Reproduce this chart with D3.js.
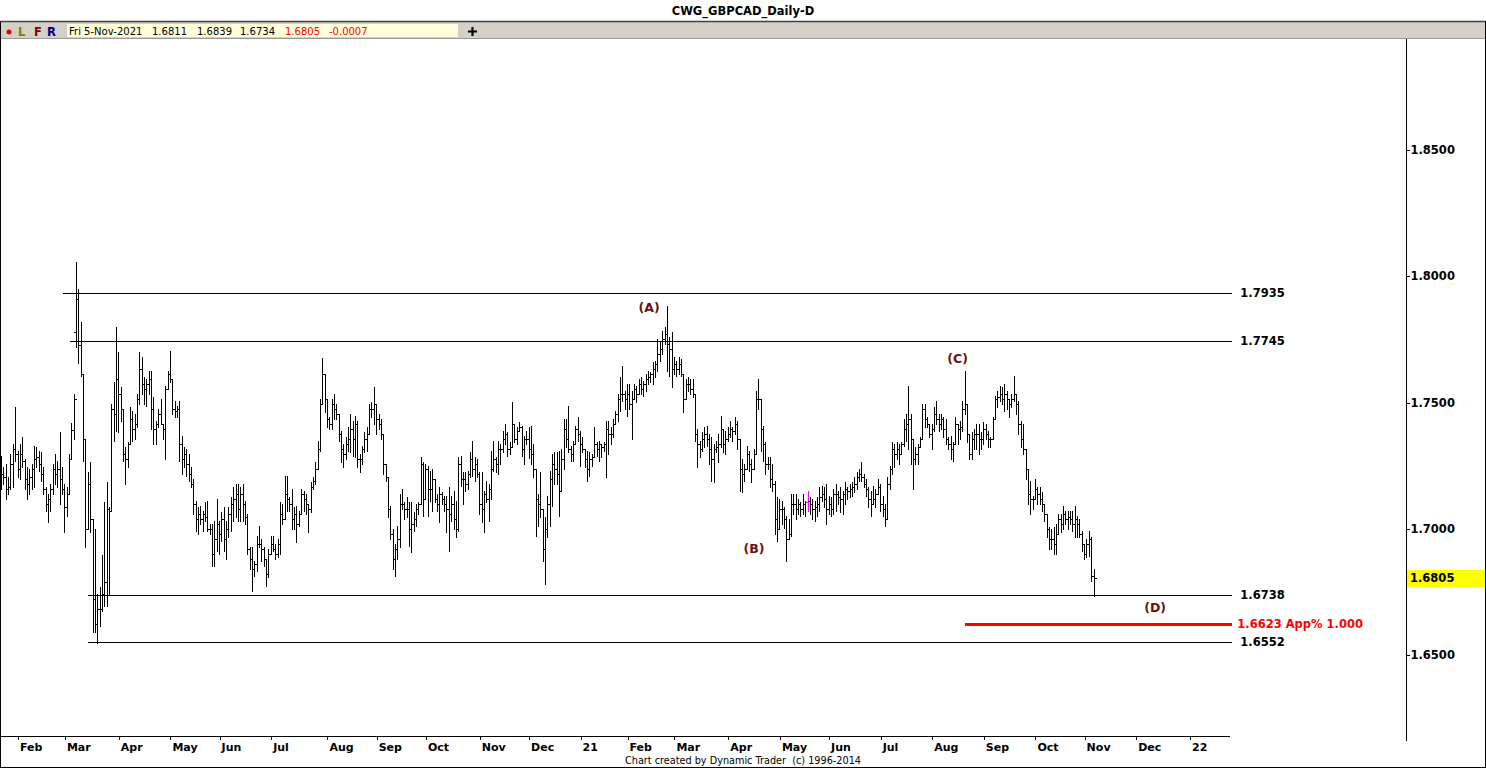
<!DOCTYPE html>
<html><head><meta charset="utf-8">
<script src="https://cdn.jsdelivr.net/npm/d3@7"></script>
<style>html,body{margin:0;padding:0;background:#fff;}svg{display:block;}</style>
</head><body>
<svg id="c" width="1486" height="768"></svg>
<script>
const chartTitle = "CWG_GBPCAD_Daily-D";
const infoTexts = ["Fri 5-Nov-2021", "1.6811", "1.6839", "1.6734", "1.6805", "-0.0007"];
const footerText = "Chart created by Dynamic Trader  (c) 1996-2014";

const opens = [
1.7196,1.7216,1.7204,1.7157,1.7164,1.7256,1.7315,1.7295,1.7236,1.7295,
1.7268,1.7196,1.7177,1.7204,1.7236,1.7275,1.7283,1.7256,1.7216,1.7157,
1.7097,1.7117,1.7157,1.7236,1.7216,1.7236,1.7196,1.7157,1.7085,1.7137,
1.7275,1.7390,1.7778,1.7909,1.7727,1.7612,1.7355,1.6998,1.7177,1.7038,
1.6721,1.6622,1.6681,1.6681,1.6741,1.6788,1.7077,1.7069,1.7473,1.7454,
1.7592,1.7533,1.7473,1.7295,1.7275,1.7335,1.7434,1.7394,1.7414,1.7513,
1.7632,1.7572,1.7553,1.7572,1.7592,1.7473,1.7394,1.7414,1.7453,1.7414,
1.7394,1.7553,1.7612,1.7592,1.7473,1.7465,1.7473,1.7335,1.7275,1.7295,
1.7256,1.7216,1.7177,1.7097,1.7038,1.7057,1.7038,1.7057,1.7046,1.6998,
1.6998,1.6899,1.6959,1.7018,1.6978,1.7038,1.6959,1.6998,1.7057,1.7097,
1.7117,1.7137,1.7077,1.7137,1.7097,1.7046,1.6919,1.6879,1.6840,1.6860,
1.6939,1.6939,1.6919,1.6879,1.6820,1.6899,1.6939,1.6919,1.6899,1.6939,
1.7057,1.7038,1.7137,1.7117,1.7097,1.7038,1.7057,1.7018,1.7057,1.7137,
1.7117,1.7097,1.7077,1.7164,1.7188,1.7236,1.7315,1.7493,1.7612,1.7513,
1.7434,1.7414,1.7493,1.7473,1.7453,1.7375,1.7315,1.7295,1.7335,1.7355,
1.7394,1.7355,1.7414,1.7275,1.7275,1.7315,1.7355,1.7375,1.7473,1.7473,
1.7493,1.7434,1.7414,1.7375,1.7256,1.7204,1.7077,1.6978,1.6879,1.6919,
1.6959,1.7097,1.7097,1.7077,1.7077,1.6998,1.7018,1.7038,1.7077,1.7097,
1.7256,1.7117,1.7236,1.7157,1.7157,1.7196,1.7117,1.7097,1.7137,1.7117,
1.7097,1.7077,1.7057,1.7097,1.7038,1.6998,1.7256,1.7196,1.7196,1.7177,
1.7216,1.7275,1.7236,1.7256,1.7216,1.7097,1.7077,1.7137,1.7117,1.7157,
1.7236,1.7275,1.7256,1.7315,1.7315,1.7355,1.7375,1.7315,1.7323,1.7414,
1.7355,1.7386,1.7402,1.7315,1.7355,1.7355,1.7315,1.7295,1.7236,1.7117,
1.7097,1.7077,1.6919,1.6998,1.7097,1.7196,1.7256,1.7236,1.7216,1.7149,
1.7275,1.7394,1.7355,1.7315,1.7295,1.7335,1.7394,1.7375,1.7335,1.7315,
1.7275,1.7236,1.7275,1.7283,1.7335,1.7315,1.7335,1.7323,1.7335,1.7394,
1.7375,1.7375,1.7414,1.7453,1.7513,1.7533,1.7533,1.7513,1.7533,1.7493,
1.7513,1.7553,1.7533,1.7572,1.7553,1.7572,1.7592,1.7600,1.7612,1.7632,
1.7652,1.7691,1.7711,1.7751,1.7770,1.7731,1.7711,1.7632,1.7652,1.7632,
1.7652,1.7612,1.7513,1.7572,1.7572,1.7553,1.7533,1.7375,1.7335,1.7315,
1.7355,1.7375,1.7355,1.7315,1.7275,1.7315,1.7323,1.7335,1.7394,1.7335,
1.7355,1.7375,1.7394,1.7386,1.7414,1.7355,1.7236,1.7216,1.7236,1.7295,
1.7256,1.7236,1.7295,1.7513,1.7513,1.7394,1.7335,1.7256,1.7256,1.7196,
1.7177,1.7038,1.6998,1.7077,1.7077,1.7038,1.6959,1.6978,1.7097,1.7097,
1.7077,1.7097,1.7077,1.7097,1.7105,1.7109,1.7097,1.7077,1.7085,1.7097,
1.7125,1.7137,1.7117,1.7077,1.7097,1.7077,1.7137,1.7137,1.7125,1.7117,
1.7137,1.7157,1.7149,1.7157,1.7164,1.7177,1.7204,1.7216,1.7204,1.7177,
1.7157,1.7117,1.7097,1.7117,1.7137,1.7164,1.7097,1.7077,1.7038,1.7177,
1.7236,1.7315,1.7295,1.7315,1.7295,1.7335,1.7394,1.7414,1.7434,1.7355,
1.7275,1.7295,1.7323,1.7355,1.7473,1.7434,1.7414,1.7375,1.7394,1.7453,
1.7434,1.7414,1.7434,1.7394,1.7355,1.7335,1.7315,1.7335,1.7414,1.7394,
1.7402,1.7473,1.7493,1.7375,1.7295,1.7355,1.7375,1.7375,1.7355,1.7355,
1.7394,1.7375,1.7355,1.7355,1.7434,1.7513,1.7521,1.7533,1.7513,1.7533,
1.7513,1.7493,1.7513,1.7533,1.7493,1.7414,1.7355,1.7315,1.7236,1.7137,
1.7117,1.7117,1.7157,1.7137,1.7117,1.7097,1.7057,1.6998,1.6959,1.6959,
1.6939,1.6978,1.7038,1.7018,1.7057,1.7038,1.7046,1.7038,1.7018,1.7038,
1.7018,1.6978,1.6939,1.6899,1.6939,1.6959,1.6811];

const highs = [
1.7287,1.7244,1.7256,1.7204,1.7295,1.7335,1.7481,1.7307,1.7335,1.7363,
1.7275,1.7244,1.7236,1.7256,1.7327,1.7323,1.7307,1.7303,1.7244,1.7164,
1.7137,1.7177,1.7256,1.7295,1.7268,1.7382,1.7244,1.7177,1.7164,1.7295,
1.7418,1.7533,1.8057,1.7949,1.7818,1.7612,1.7355,1.7224,1.7264,1.7038,
1.6998,1.6741,1.6769,1.6895,1.7105,1.7184,1.7085,1.7493,1.7581,1.7799,
1.7699,1.7561,1.7473,1.7323,1.7343,1.7481,1.7465,1.7453,1.7533,1.7699,
1.7679,1.7600,1.7592,1.7624,1.7624,1.7521,1.7426,1.7473,1.7513,1.7414,
1.7565,1.7624,1.7703,1.7592,1.7505,1.7485,1.7505,1.7367,1.7323,1.7315,
1.7295,1.7244,1.7196,1.7109,1.7085,1.7089,1.7069,1.7105,1.7109,1.7018,
1.7018,1.7030,1.7117,1.7030,1.7065,1.7085,1.7030,1.7085,1.7125,1.7164,
1.7177,1.7177,1.7164,1.7177,1.7109,1.7057,1.6927,1.6927,1.6871,1.6970,
1.7010,1.6959,1.6927,1.6879,1.6919,1.6970,1.6970,1.6939,1.6959,1.7105,
1.7097,1.7208,1.7208,1.7125,1.7157,1.7085,1.7089,1.7069,1.7157,1.7149,
1.7137,1.7097,1.7184,1.7204,1.7264,1.7347,1.7513,1.7675,1.7612,1.7513,
1.7442,1.7513,1.7533,1.7493,1.7453,1.7386,1.7335,1.7363,1.7402,1.7453,
1.7426,1.7446,1.7426,1.7295,1.7327,1.7382,1.7402,1.7493,1.7501,1.7561,
1.7493,1.7453,1.7434,1.7375,1.7256,1.7204,1.7089,1.6998,1.6939,1.7010,
1.7137,1.7157,1.7105,1.7125,1.7105,1.7105,1.7065,1.7097,1.7105,1.7283,
1.7264,1.7256,1.7248,1.7228,1.7236,1.7196,1.7137,1.7164,1.7145,1.7129,
1.7129,1.7164,1.7129,1.7149,1.7109,1.7283,1.7287,1.7224,1.7224,1.7228,
1.7303,1.7347,1.7283,1.7275,1.7224,1.7224,1.7149,1.7188,1.7177,1.7307,
1.7347,1.7283,1.7347,1.7335,1.7386,1.7414,1.7382,1.7343,1.7501,1.7414,
1.7402,1.7422,1.7406,1.7367,1.7386,1.7402,1.7406,1.7335,1.7236,1.7137,
1.7224,1.7077,1.7046,1.7129,1.7228,1.7295,1.7303,1.7303,1.7307,1.7315,
1.7434,1.7434,1.7485,1.7327,1.7347,1.7406,1.7442,1.7386,1.7363,1.7315,
1.7307,1.7303,1.7295,1.7402,1.7343,1.7347,1.7335,1.7343,1.7426,1.7426,
1.7402,1.7434,1.7465,1.7533,1.7600,1.7644,1.7545,1.7572,1.7572,1.7545,
1.7572,1.7565,1.7592,1.7600,1.7584,1.7612,1.7624,1.7620,1.7660,1.7663,
1.7751,1.7743,1.7782,1.7798,1.7881,1.7759,1.7778,1.7679,1.7663,1.7679,
1.7671,1.7612,1.7592,1.7600,1.7592,1.7592,1.7533,1.7394,1.7347,1.7382,
1.7402,1.7406,1.7375,1.7363,1.7335,1.7347,1.7375,1.7446,1.7394,1.7386,
1.7402,1.7426,1.7402,1.7442,1.7426,1.7355,1.7275,1.7256,1.7327,1.7307,
1.7275,1.7315,1.7545,1.7592,1.7513,1.7406,1.7343,1.7283,1.7283,1.7256,
1.7188,1.7125,1.7117,1.7109,1.7085,1.7050,1.7038,1.7137,1.7137,1.7137,
1.7117,1.7105,1.7137,1.7109,1.7149,1.7125,1.7117,1.7109,1.7125,1.7164,
1.7168,1.7164,1.7177,1.7129,1.7125,1.7157,1.7177,1.7149,1.7164,1.7149,
1.7184,1.7164,1.7177,1.7184,1.7204,1.7224,1.7236,1.7264,1.7216,1.7196,
1.7164,1.7149,1.7168,1.7157,1.7196,1.7177,1.7129,1.7097,1.7204,1.7248,
1.7343,1.7335,1.7343,1.7335,1.7343,1.7434,1.7453,1.7565,1.7453,1.7355,
1.7323,1.7335,1.7363,1.7493,1.7493,1.7442,1.7414,1.7414,1.7481,1.7505,
1.7453,1.7453,1.7442,1.7434,1.7363,1.7367,1.7343,1.7442,1.7414,1.7426,
1.7505,1.7624,1.7493,1.7375,1.7382,1.7394,1.7414,1.7414,1.7382,1.7422,
1.7414,1.7386,1.7363,1.7442,1.7525,1.7545,1.7565,1.7561,1.7572,1.7545,
1.7513,1.7533,1.7604,1.7533,1.7505,1.7426,1.7414,1.7315,1.7236,1.7188,
1.7129,1.7196,1.7164,1.7164,1.7145,1.7097,1.7057,1.7006,1.6998,1.7006,
1.7018,1.7057,1.7057,1.7089,1.7069,1.7069,1.7069,1.7069,1.7089,1.7050,
1.7038,1.6990,1.6939,1.6959,1.6990,1.6967,1.6839];

const lows = [
1.7157,1.7177,1.7117,1.7137,1.7157,1.7164,1.7268,1.7204,1.7196,1.7244,
1.7157,1.7117,1.7137,1.7157,1.7164,1.7244,1.7228,1.7188,1.7137,1.7070,
1.7026,1.7070,1.7137,1.7177,1.7164,1.7097,1.7137,1.6987,1.7050,1.7137,
1.7275,1.7355,1.7719,1.7656,1.7604,1.7268,1.6927,1.6998,1.6987,1.6590,
1.6590,1.6547,1.6614,1.6673,1.6693,1.6693,1.6741,1.7069,1.7347,1.7386,
1.7382,1.7426,1.7268,1.7177,1.7244,1.7335,1.7347,1.7355,1.7402,1.7493,
1.7533,1.7493,1.7485,1.7533,1.7394,1.7335,1.7335,1.7402,1.7414,1.7355,
1.7275,1.7553,1.7580,1.7453,1.7442,1.7442,1.7268,1.7216,1.7244,1.7208,
1.7188,1.7164,1.7057,1.6990,1.6978,1.7018,1.6990,1.7030,1.6990,1.6978,
1.6852,1.6852,1.6911,1.6899,1.6951,1.6911,1.6879,1.6967,1.6990,1.7030,
1.7046,1.7030,1.7030,1.7030,1.7018,1.6899,1.6840,1.6753,1.6812,1.6832,
1.6927,1.6871,1.6852,1.6773,1.6808,1.6899,1.6911,1.6879,1.6887,1.6899,
1.7018,1.7038,1.7069,1.7069,1.6998,1.6998,1.6947,1.7010,1.7057,1.7069,
1.7057,1.6986,1.7065,1.7157,1.7177,1.7236,1.7307,1.7493,1.7461,1.7402,
1.7394,1.7394,1.7434,1.7434,1.7347,1.7264,1.7244,1.7275,1.7307,1.7303,
1.7287,1.7283,1.7244,1.7224,1.7256,1.7303,1.7307,1.7375,1.7442,1.7414,
1.7375,1.7394,1.7355,1.7216,1.7188,1.7046,1.6959,1.6840,1.6812,1.6879,
1.6927,1.7077,1.7038,1.7046,1.6931,1.6907,1.6990,1.7010,1.7057,1.7097,
1.7050,1.7117,1.7050,1.7109,1.7069,1.7105,1.7069,1.7026,1.7097,1.7069,
1.6986,1.6911,1.7030,1.6998,1.6967,1.6990,1.7168,1.7097,1.7149,1.7157,
1.7204,1.7208,1.7188,1.7204,1.7057,1.7026,1.6986,1.7105,1.7030,1.7117,
1.7228,1.7224,1.7216,1.7256,1.7303,1.7335,1.7287,1.7295,1.7323,1.7343,
1.7335,1.7386,1.7287,1.7256,1.7335,1.7279,1.7256,1.7204,1.6970,1.7010,
1.7046,1.6871,1.6781,1.6967,1.7010,1.7089,1.7177,1.7177,1.7050,1.7149,
1.7236,1.7323,1.7303,1.7268,1.7268,1.7335,1.7347,1.7248,1.7303,1.7244,
1.7188,1.7208,1.7248,1.7283,1.7287,1.7268,1.7283,1.7307,1.7204,1.7295,
1.7335,1.7363,1.7414,1.7426,1.7465,1.7505,1.7473,1.7446,1.7473,1.7355,
1.7513,1.7501,1.7533,1.7533,1.7525,1.7545,1.7572,1.7580,1.7572,1.7600,
1.7624,1.7663,1.7691,1.7731,1.7624,1.7604,1.7561,1.7612,1.7604,1.7612,
1.7604,1.7461,1.7513,1.7545,1.7533,1.7521,1.7347,1.7244,1.7283,1.7307,
1.7323,1.7327,1.7256,1.7188,1.7184,1.7303,1.7264,1.7323,1.7303,1.7295,
1.7347,1.7363,1.7347,1.7375,1.7315,1.7149,1.7145,1.7188,1.7236,1.7228,
1.7184,1.7236,1.7295,1.7473,1.7307,1.7268,1.7216,1.7236,1.7164,1.7149,
1.6978,1.6951,1.6998,1.7018,1.7002,1.6871,1.6959,1.6970,1.7057,1.7038,
1.7057,1.7050,1.7057,1.7050,1.7069,1.7057,1.7038,1.7030,1.7050,1.7069,
1.7109,1.7085,1.7018,1.7057,1.7050,1.7057,1.7069,1.7097,1.7065,1.7057,
1.7097,1.7117,1.7125,1.7129,1.7145,1.7157,1.7188,1.7188,1.7164,1.7129,
1.7085,1.7050,1.7097,1.7085,1.7137,1.7069,1.7050,1.7010,1.7038,1.7157,
1.7216,1.7244,1.7275,1.7256,1.7295,1.7327,1.7347,1.7315,1.7256,1.7157,
1.7256,1.7256,1.7323,1.7355,1.7402,1.7402,1.7363,1.7315,1.7386,1.7414,
1.7386,1.7394,1.7363,1.7335,1.7315,1.7275,1.7268,1.7335,1.7335,1.7355,
1.7386,1.7453,1.7343,1.7275,1.7275,1.7315,1.7315,1.7295,1.7315,1.7335,
1.7355,1.7323,1.7323,1.7355,1.7434,1.7481,1.7505,1.7493,1.7465,1.7473,
1.7442,1.7481,1.7505,1.7453,1.7375,1.7323,1.7295,1.7196,1.7097,1.7057,
1.7077,1.7117,1.7097,1.7097,1.7069,1.7030,1.6967,1.6919,1.6919,1.6899,
1.6899,1.6978,1.6986,1.6998,1.7018,1.6998,1.7018,1.6990,1.6967,1.6967,
1.6967,1.6911,1.6879,1.6887,1.6891,1.6792,1.6734];

const closes = [
1.7216,1.7204,1.7157,1.7164,1.7256,1.7315,1.7295,1.7236,1.7295,1.7268,
1.7196,1.7177,1.7204,1.7236,1.7275,1.7283,1.7256,1.7216,1.7157,1.7097,
1.7117,1.7157,1.7236,1.7216,1.7236,1.7196,1.7157,1.7085,1.7137,1.7275,
1.7390,1.7513,1.7909,1.7727,1.7612,1.7355,1.6998,1.7177,1.7038,1.6721,
1.6622,1.6681,1.6681,1.6741,1.6788,1.7077,1.7069,1.7473,1.7454,1.7592,
1.7533,1.7473,1.7295,1.7275,1.7335,1.7434,1.7394,1.7414,1.7513,1.7632,
1.7572,1.7553,1.7572,1.7592,1.7473,1.7394,1.7414,1.7453,1.7414,1.7394,
1.7553,1.7612,1.7592,1.7473,1.7465,1.7473,1.7335,1.7275,1.7295,1.7256,
1.7216,1.7177,1.7097,1.7038,1.7057,1.7038,1.7057,1.7046,1.6998,1.6998,
1.6899,1.6959,1.7018,1.6978,1.7038,1.6959,1.6998,1.7057,1.7097,1.7117,
1.7137,1.7077,1.7137,1.7097,1.7046,1.6919,1.6879,1.6840,1.6860,1.6939,
1.6939,1.6919,1.6879,1.6820,1.6899,1.6939,1.6919,1.6899,1.6939,1.7057,
1.7038,1.7137,1.7117,1.7097,1.7038,1.7057,1.7018,1.7057,1.7137,1.7117,
1.7097,1.7077,1.7164,1.7188,1.7236,1.7315,1.7493,1.7612,1.7513,1.7434,
1.7414,1.7493,1.7473,1.7453,1.7375,1.7315,1.7295,1.7335,1.7355,1.7394,
1.7355,1.7414,1.7275,1.7275,1.7315,1.7355,1.7375,1.7473,1.7473,1.7493,
1.7434,1.7414,1.7375,1.7256,1.7204,1.7077,1.6978,1.6879,1.6919,1.6959,
1.7097,1.7097,1.7077,1.7077,1.6998,1.7018,1.7038,1.7077,1.7097,1.7256,
1.7117,1.7236,1.7157,1.7157,1.7196,1.7117,1.7097,1.7137,1.7117,1.7097,
1.7077,1.7057,1.7097,1.7038,1.6998,1.7256,1.7196,1.7196,1.7177,1.7216,
1.7275,1.7236,1.7256,1.7216,1.7097,1.7077,1.7137,1.7117,1.7157,1.7236,
1.7275,1.7256,1.7315,1.7315,1.7355,1.7375,1.7315,1.7323,1.7414,1.7355,
1.7386,1.7402,1.7315,1.7355,1.7355,1.7315,1.7295,1.7236,1.7117,1.7097,
1.7077,1.6919,1.6998,1.7097,1.7196,1.7256,1.7236,1.7216,1.7149,1.7275,
1.7394,1.7355,1.7315,1.7295,1.7335,1.7394,1.7375,1.7335,1.7315,1.7275,
1.7236,1.7275,1.7283,1.7335,1.7315,1.7335,1.7323,1.7335,1.7394,1.7375,
1.7375,1.7414,1.7453,1.7513,1.7533,1.7533,1.7513,1.7533,1.7493,1.7513,
1.7553,1.7533,1.7572,1.7553,1.7572,1.7592,1.7600,1.7612,1.7632,1.7652,
1.7691,1.7711,1.7751,1.7770,1.7731,1.7711,1.7632,1.7652,1.7632,1.7652,
1.7612,1.7513,1.7572,1.7572,1.7553,1.7533,1.7375,1.7335,1.7315,1.7355,
1.7375,1.7355,1.7315,1.7275,1.7315,1.7323,1.7335,1.7394,1.7335,1.7355,
1.7375,1.7394,1.7386,1.7414,1.7355,1.7236,1.7216,1.7236,1.7295,1.7256,
1.7236,1.7295,1.7513,1.7513,1.7394,1.7335,1.7256,1.7256,1.7196,1.7177,
1.7038,1.6998,1.7077,1.7077,1.7038,1.6959,1.6978,1.7097,1.7097,1.7077,
1.7097,1.7077,1.7097,1.7105,1.7109,1.7097,1.7077,1.7085,1.7097,1.7125,
1.7137,1.7117,1.7077,1.7097,1.7077,1.7137,1.7137,1.7125,1.7117,1.7137,
1.7157,1.7149,1.7157,1.7164,1.7177,1.7204,1.7216,1.7204,1.7177,1.7157,
1.7117,1.7097,1.7117,1.7137,1.7164,1.7097,1.7077,1.7038,1.7177,1.7236,
1.7315,1.7295,1.7315,1.7295,1.7335,1.7394,1.7414,1.7434,1.7355,1.7275,
1.7295,1.7323,1.7355,1.7473,1.7434,1.7414,1.7375,1.7394,1.7453,1.7434,
1.7414,1.7434,1.7394,1.7355,1.7335,1.7315,1.7335,1.7414,1.7394,1.7402,
1.7473,1.7493,1.7375,1.7295,1.7355,1.7375,1.7375,1.7355,1.7355,1.7394,
1.7375,1.7355,1.7355,1.7434,1.7513,1.7521,1.7533,1.7513,1.7533,1.7513,
1.7493,1.7513,1.7533,1.7493,1.7414,1.7355,1.7315,1.7236,1.7137,1.7117,
1.7117,1.7157,1.7137,1.7117,1.7097,1.7057,1.6998,1.6959,1.6959,1.6939,
1.6978,1.7038,1.7018,1.7057,1.7038,1.7046,1.7038,1.7018,1.7038,1.7018,
1.6978,1.6939,1.6899,1.6939,1.6959,1.6812,1.6805];

const monthLabels = ["Feb","Mar","Apr","May","Jun","Jul","Aug","Sep","Oct","Nov","Dec","21",
                     "Feb","Mar","Apr","May","Jun","Jul","Aug","Sep","Oct","Nov","Dec","22"];
const monthStartIdx = [7,27,50,72,93,115,139,160,181,204,225,247,267,287,310,332,353,375,397,419,441,462,484,507];

const yTickValues = [1.65, 1.70, 1.75, 1.80, 1.85];
const lastClose = 1.6805;

const levelPrices = [1.7935, 1.7745, 1.6738, 1.6552];
const levelStartIdx = [26, 29, 37, 37];
const levelEndIdx = 525;
const projPrice = 1.6623;
const projLabel = "1.6623 App% 1.000";
const projStartIdx = 411;

const waveLabels = ["(A)", "(B)", "(C)", "(D)"];
const waveIdx = [276.2, 321, 407.8, 492.1];
const wavePrice = [1.7877, 1.6923, 1.7675, 1.6689];
const highlightIdx = 344;

// ---------- drawing ----------
const svg = d3.select("#c");
const FONT = "DejaVu Sans";
svg.append("rect").attr("width", 1486).attr("height", 768).attr("fill", "#fff");

const x = d3.scaleLinear().domain([0, opens.length - 1]).range([1.6, 1094]);
const y = d3.scaleLinear().domain([1.65, 1.85]).range([655, 150]);

// title
svg.append("text").attr("x", 743).attr("y", 15).attr("text-anchor", "middle")
  .attr("font-family", FONT).attr("font-weight", "bold").attr("font-size", "11.5px").text(chartTitle);

// toolbar
svg.append("rect").attr("x", 0).attr("y", 22).attr("width", 1486).attr("height", 16).attr("fill", "#d4d0c8");
svg.append("line").attr("x1", 0).attr("x2", 1486).attr("y1", 21.5).attr("y2", 21.5).attr("stroke", "#404040").attr("stroke-width", 1.5);
svg.append("line").attr("x1", 0).attr("x2", 1486).attr("y1", 38.5).attr("y2", 38.5).attr("stroke", "#9a9a9a");
svg.append("circle").attr("cx", 9).attr("cy", 32).attr("r", 2.5).attr("fill", "#e00000");
[["L", 18, "#808000"], ["F", 34, "#800000"], ["R", 47, "#000080"]].forEach(([t, px, col]) => {
  svg.append("text").attr("x", px).attr("y", 36).attr("fill", col).attr("font-family", FONT)
    .attr("font-weight", "bold").attr("font-size", "11.5px").text(t);
});
svg.append("rect").attr("x", 67).attr("y", 24).attr("width", 391).attr("height", 13).attr("fill", "#ffffdc");
const infoX = [69, 152, 197, 240, 285, 329];
infoTexts.forEach((t, i) => {
  svg.append("text").attr("x", infoX[i]).attr("y", 35).attr("font-family", FONT).attr("font-size", "10px")
    .attr("fill", i >= 4 ? "#ff0000" : "#000").text(t);
});
svg.append("path").attr("d", "M468,31.5H477M472.5,27V36").attr("stroke", "#000").attr("stroke-width", 2.2);

// level lines
const chart = svg.append("g").attr("shape-rendering", "crispEdges");
levelPrices.forEach((p, i) => {
  const yy = Math.round(y(p)) + 0.5;
  chart.append("line").attr("x1", Math.round(x(levelStartIdx[i]))).attr("x2", Math.round(x(levelEndIdx)))
    .attr("y1", yy).attr("y2", yy).attr("stroke", "#000").attr("stroke-width", 1);
  svg.append("text").attr("x", x(levelEndIdx) + 8).attr("y", y(p)).attr("dy", "0.36em")
    .attr("font-family", FONT).attr("font-weight", "bold").attr("font-size", "11.5px").text(d3.format(".4f")(p));
});
chart.append("line").attr("x1", Math.round(x(projStartIdx))).attr("x2", Math.round(x(levelEndIdx)))
  .attr("y1", Math.round(y(projPrice)) + 0.5).attr("y2", Math.round(y(projPrice)) + 0.5)
  .attr("stroke", "#ff0000").attr("stroke-width", 3);
svg.append("text").attr("x", x(levelEndIdx) + 5).attr("y", y(projPrice)).attr("dy", "0.36em")
  .attr("font-family", FONT).attr("font-weight", "bold").attr("font-size", "11.5px").attr("fill", "#ff0000").text(projLabel);

// OHLC bars
const bars = opens.map((o, i) => ({i, o, h: highs[i], l: lows[i], c: closes[i]}));
chart.append("g").selectAll("path").data(bars).join("path")
  .attr("fill", "none")
  .attr("stroke", d => d.i === highlightIdx ? "#ff00ff" : "#000")
  .attr("stroke-width", 1)
  .attr("d", d => {
    const px = Math.floor(x(d.i));
    const yh = Math.round(y(d.h)), yl = Math.round(y(d.l));
    const yo = Math.round(y(d.o)) + 0.5, yc = Math.round(y(d.c)) + 0.5;
    return `M${px + 0.5},${yh}V${yl + 1}M${px - 2},${yo}H${px}M${px + 1},${yc}H${px + 3}`;
  });

// wave labels
waveLabels.forEach((t, i) => {
  svg.append("text").attr("x", x(waveIdx[i])).attr("y", y(wavePrice[i])).attr("dy", "0.36em")
    .attr("text-anchor", "middle").attr("font-family", FONT).attr("font-weight", "bold")
    .attr("font-size", "12.5px").attr("fill", "#651212").text(t);
});

// right axis
const yAxis = d3.axisRight(y).tickValues(yTickValues).tickFormat(d3.format(".4f")).tickSize(4).tickPadding(0.5);
const gy = svg.append("g").attr("transform", "translate(1406,0)").attr("shape-rendering", "crispEdges").call(yAxis);
gy.select(".domain").remove();
gy.selectAll("line").attr("stroke", "#000");
gy.selectAll("text").attr("font-family", FONT).attr("font-weight", "bold").attr("font-size", "11.5px").attr("fill", "#000");
svg.append("line").attr("x1", 1406.5).attr("x2", 1406.5).attr("y1", 39).attr("y2", 741).attr("stroke", "#000");
svg.append("rect").attr("x", 1407).attr("y", Math.round(y(lastClose)) - 8).attr("width", 79).attr("height", 17).attr("fill", "#ffff00");
svg.append("text").attr("x", 1410).attr("y", y(lastClose)).attr("dy", "0.36em")
  .attr("font-family", FONT).attr("font-weight", "bold").attr("font-size", "11.5px").text(d3.format(".4f")(lastClose));

// bottom axis
const xAxis = d3.axisBottom(x).tickValues(monthStartIdx).tickFormat((d, i) => monthLabels[i]).tickSize(4).tickPadding(3);
const gx = svg.append("g").attr("transform", "translate(0,736)").attr("shape-rendering", "crispEdges").call(xAxis);
gx.select(".domain").remove();
gx.selectAll("line").attr("stroke", "#000");
gx.selectAll("text").attr("text-anchor", "start").attr("x", 1.5)
  .attr("font-family", FONT).attr("font-weight", "bold").attr("font-size", "11px").attr("fill", "#000");
svg.append("line").attr("x1", 0).attr("x2", Math.round(x(levelEndIdx - 1))).attr("y1", 736.5).attr("y2", 736.5)
  .attr("stroke", "#000").attr("shape-rendering", "crispEdges");

// footer
svg.append("text").attr("x", 743).attr("y", 764).attr("text-anchor", "middle").attr("font-family", FONT)
  .attr("font-size", "10px").attr("textLength", 236).attr("lengthAdjust", "spacingAndGlyphs")
  .style("white-space", "pre").text(footerText);

// frame
const frame = svg.append("g").attr("stroke", "#000").attr("shape-rendering", "crispEdges");
frame.append("line").attr("x1", 0.5).attr("x2", 0.5).attr("y1", 22).attr("y2", 768);
frame.append("line").attr("x1", 1485.5).attr("x2", 1485.5).attr("y1", 22).attr("y2", 768);
frame.append("line").attr("x1", 0).attr("x2", 1486).attr("y1", 767.5).attr("y2", 767.5);
</script>
</body></html>
